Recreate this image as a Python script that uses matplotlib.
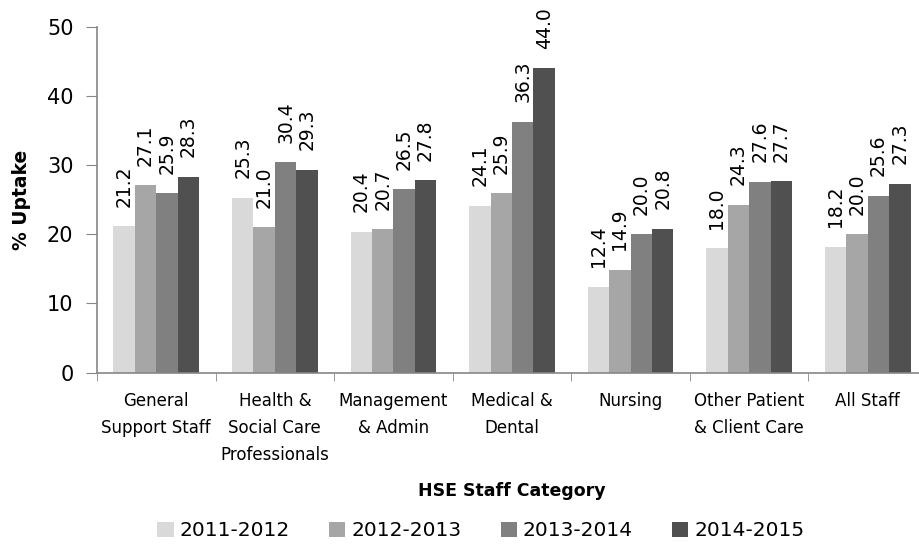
import matplotlib.pyplot as plt
import numpy as np

categories = ["General\nSupport Staff", "Health &\nSocial Care\nProfessionals",
              "Management\n& Admin", "Medical &\nDental", "Nursing",
              "Other Patient\n& Client Care", "All Staff"]
seasons = ["2011-2012", "2012-2013", "2013-2014", "2014-2015"]
v2011 = [21.2, 25.3, 20.4, 24.1, 12.4, 18.0, 18.2]
v2012 = [27.1, 21.0, 20.7, 25.9, 14.9, 24.3, 20.0]
v2013 = [25.9, 30.4, 26.5, 36.3, 20.0, 27.6, 25.6]
v2014 = [28.3, 29.3, 27.8, 44.0, 20.8, 27.7, 27.3]
colors = ["#d9d9d9", "#a6a6a6", "#808080", "#505050"]

plt.rcParams['font.family'] = 'DejaVu Sans'
fig = plt.figure(figsize=(9.2, 5.46), dpi=100)
ax = fig.add_axes([97/920, 0.3174, 830/920, 0.6337])

x = np.arange(len(categories))
w = 0.181
for i, vals in enumerate([v2011, v2012, v2013, v2014]):
    bars = ax.bar(x + (i - 1.5) * w, vals, w, color=colors[i], label=seasons[i])
    for b, v in zip(bars, vals):
        ax.annotate(f"{v:.1f}", (b.get_x() + b.get_width() / 2, v),
                    xytext=(0, 14), textcoords="offset points",
                    rotation=90, ha="center", va="bottom", fontsize=13.5)

ax.set_xlim(-0.5, 6.5)
ax.set_ylim(0, 50)
ax.set_yticks(range(0, 51, 10))
ax.tick_params(axis="y", labelsize=15, length=8, color="#868686", pad=9)
ax.set_xticks(x)
ax.set_xticklabels(categories, fontsize=12, linespacing=1.65, va="top")
ax.tick_params(axis="x", length=0, pad=14)
ax.set_xticks(np.arange(-0.5, 7, 1), minor=True)
ax.tick_params(axis="x", which="minor", length=6, color="#868686")
for s in ["top", "right"]:
    ax.spines[s].set_visible(False)
for s in ["left", "bottom"]:
    ax.spines[s].set_color("#868686")
    ax.spines[s].set_linewidth(1.2)

ax.set_ylabel("% Uptake", fontsize=13.5, fontweight="bold")
ax.yaxis.set_label_coords(-0.0795, 0.5)
fig.text(511.5/920, 1 - 491/546, "HSE Staff Category", fontsize=12.5,
         fontweight="bold", ha="center", va="center")

fig.legend(loc="center", bbox_to_anchor=(481/920, 1 - 531/546), ncol=4,
           frameon=False, fontsize=14.5, handlelength=0.8, handleheight=0.8,
           handletextpad=0.3, columnspacing=1.95, borderpad=0)

fig.savefig("out.png", dpi=100)
